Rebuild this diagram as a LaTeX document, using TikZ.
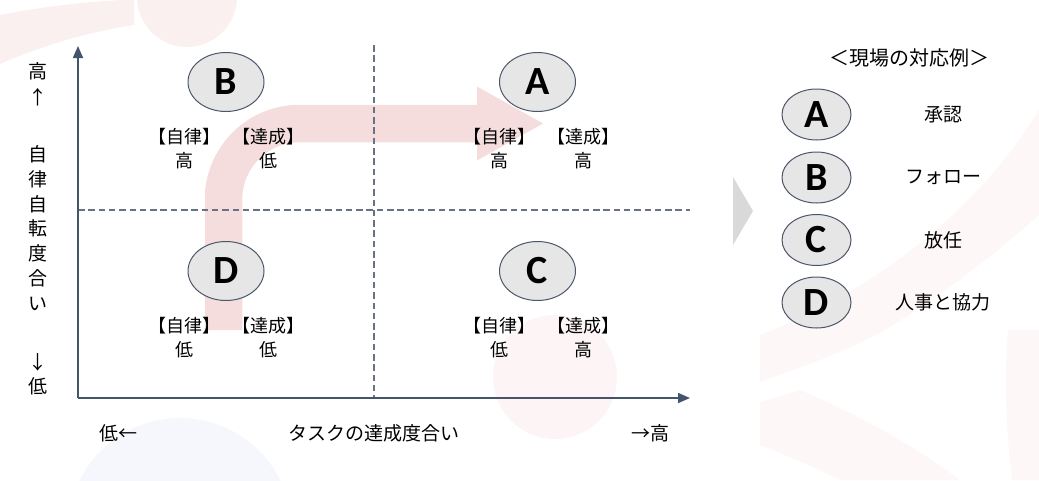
\documentclass[tikz,border=0pt]{standalone}
\usepackage{fontspec}
\setmainfont{Noto Sans CJK JP}
\newfontfamily\letterfont{Carlito}
\usetikzlibrary{arrows.meta,shapes.geometric}
\definecolor{axiscol}{RGB}{68,84,106}
\definecolor{dashcol}{RGB}{105,114,130}
\definecolor{pinkarrow}{RGB}{245,221,222}
\definecolor{ellfill}{RGB}{230,230,230}
\definecolor{ellline}{RGB}{75,86,104}
\definecolor{tricol}{RGB}{217,217,217}
\definecolor{bgpink}{RGB}{251,240,240}
\definecolor{bgpinklight}{RGB}{253,245,245}
\definecolor{bgpinkfaint}{RGB}{254,247,247}
\definecolor{bglav}{RGB}{246,247,252}
\begin{document}
\begin{tikzpicture}[x=1pt,y=-1pt,
  bigell/.style={ellipse, draw=ellline, fill=ellfill, line width=1pt,
    minimum width=76pt, minimum height=59pt, inner sep=0pt,
    font=\letterfont\bfseries\fontsize{40}{40}\selectfont},
  smallell/.style={bigell, minimum width=69pt, minimum height=51pt},
  qtext/.style={inner sep=0pt, align=center, font=\fontsize{18}{24}\selectfont},
  ltext/.style={inner sep=0pt, align=center, font=\fontsize{19}{24}\selectfont},
  axisline/.style={draw=axiscol, line width=1.5pt, -{Triangle[length=12pt,width=10pt]}},
  dashline/.style={draw=dashcol, line width=1.5pt, dash pattern=on 6.5pt off 3.8pt}]
\useasboundingbox (0,0) rectangle (1039,480);
% faint background decorations
\fill[bgpink] (0,64) .. controls (50,42) and (100,30) .. (134,25) -- (134,0) -- (123,0) .. controls (80,2) and (35,8) .. (0,15) -- cycle;
\fill[bgpink] (187,-3) circle[radius=50];
\fill[bglav] (180,530) circle[radius=112];
\fill[bgpinklight] (555,377) circle[radius=62];
\fill[bgpinkfaint] (760,382) .. controls (800,368) and (850,350) .. (885,330) .. controls (950,290) and (1000,250) .. (1039,215) -- (1039,110) .. controls (990,190) and (900,280) .. (760,335) -- cycle;
\fill[bgpinkfaint] (760,402) -- (800,390) .. controls (870,420) and (920,450) .. (960,480) -- (840,480) .. controls (810,465) and (785,455) .. (760,445) -- cycle;
\fill[bgpinkfaint] (1008,330) .. controls (1004,380) and (1006,430) .. (1012,480) -- (1039,480) -- (1039,330) -- cycle;
% pink arrow
\coordinate (pa0) at (223.5,330);
\coordinate (pa1) at (478,123.5);
\draw[pinkarrow, line width=37.5pt, rounded corners=76pt] (pa0) |- (pa1);
\fill[pinkarrow] (477,86.5) -- (543,123.5) -- (477,160.5) -- cycle;
% dashed lines
\coordinate (vd1) at (374,45);
\coordinate (vd2) at (374,397);
\coordinate (hd1) at (78,210);
\coordinate (hd2) at (690,210);
\draw[dashline] (vd1) -- (vd2);
\draw[dashline] (hd1) -- (hd2);
% axes
\coordinate (O) at (78,398);
\coordinate (Ytop) at (78,46);
\coordinate (Xend) at (690,398);
\draw[axisline] (O) -- (Ytop);
\draw[axisline] (O) -- (Xend);
% quadrant ellipses
\node[bigell] (B) at (226,82) {B};
\node[bigell] (A) at (537.5,82) {A};
\node[bigell] (D) at (226,271) {D};
\node[bigell] (C) at (537.5,271) {C};
% quadrant texts
\node[qtext] (Bj) at (184,149) {【自律】\\高};
\node[qtext] (Bt) at (268,149) {【達成】\\低};
\node[qtext] (Aj) at (499,149) {【自律】\\高};
\node[qtext] (At) at (583,149) {【達成】\\高};
\node[qtext] (Dj) at (184,338) {【自律】\\低};
\node[qtext] (Dt) at (268,338) {【達成】\\低};
\node[qtext] (Cj) at (499,338) {【自律】\\低};
\node[qtext] (Ct) at (583,338) {【達成】\\高};
% axis labels
\node[ltext, font=\fontsize{19}{26}\selectfont] (yhigh) at (38,84) {高\\↑};
\node[ltext, font=\fontsize{19}{24.8}\selectfont] (ylab) at (38,228) {自\\律\\自\\転\\度\\合\\い};
\node[ltext, font=\fontsize{19}{24}\selectfont] (ylow) at (38,374) {↓\\低};
\node[ltext] (xlow) at (118,433) {低←};
\node[ltext] (xlab) at (374,433) {タスクの達成度合い};
\node[ltext] (xhigh) at (650,433) {→高};
% separator triangle
\fill[tricol] (733,177) -- (753,211) -- (733,245) -- cycle;
% legend
\node[ltext, font=\fontsize{20}{24}\selectfont] (title) at (909,58) {＜現場の対応例＞};
\node[smallell] (LA) at (816.5,114.5) {A};
\node[smallell] (LB) at (816.5,177.5) {B};
\node[smallell] (LC) at (816.5,240) {C};
\node[smallell] (LD) at (816.5,302.5) {D};
\node[ltext] (tA) at (943,114.5) {承認};
\node[ltext] (tB) at (943,177.5) {フォロー};
\node[ltext] (tC) at (943,240) {放任};
\node[ltext] (tD) at (943,302.5) {人事と協力};
\end{tikzpicture}
\end{document}
